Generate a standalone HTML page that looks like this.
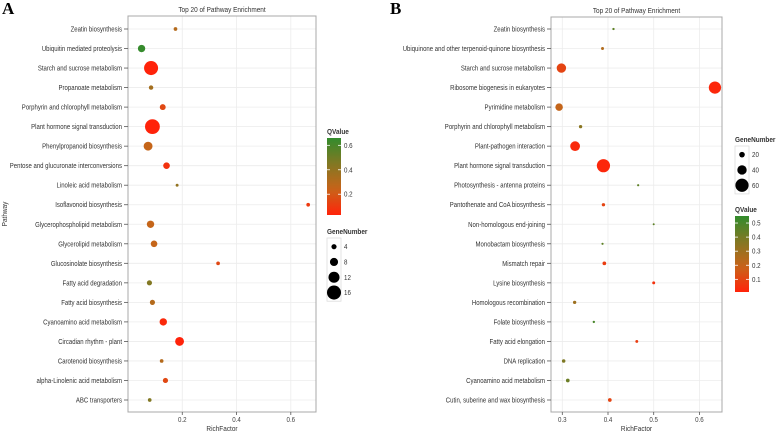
<!DOCTYPE html>
<html><head><meta charset="utf-8"><style>
body{margin:0;background:#fff;}
svg{display:block;font-family:"Liberation Sans",sans-serif;}
</style></head><body>
<svg id="chart" width="778" height="433" viewBox="0 0 778 433" xmlns="http://www.w3.org/2000/svg">
<text x="2" y="14" font-family="Liberation Serif" font-weight="bold" font-size="17">A</text>
<text x="390" y="14" font-family="Liberation Serif" font-weight="bold" font-size="17">B</text>
</svg>
<script>
const aPathways=["Zeatin biosynthesis","Ubiquitin mediated proteolysis","Starch and sucrose metabolism","Propanoate metabolism","Porphyrin and chlorophyll metabolism","Plant hormone signal transduction","Phenylpropanoid biosynthesis","Pentose and glucuronate interconversions","Linoleic acid metabolism","Isoflavonoid biosynthesis","Glycerophospholipid metabolism","Glycerolipid metabolism","Glucosinolate biosynthesis","Fatty acid degradation","Fatty acid biosynthesis","Cyanoamino acid metabolism","Circadian rhythm - plant","Carotenoid biosynthesis","alpha-Linolenic acid metabolism","ABC transporters"];
const aRich=[0.175,0.05,0.085,0.085,0.128,0.09,0.074,0.142,0.181,0.664,0.083,0.096,0.332,0.079,0.09,0.13,0.19,0.124,0.138,0.08];
const aQ=[0.3,0.65,0.02,0.35,0.15,0.02,0.25,0.08,0.4,0.1,0.25,0.25,0.15,0.45,0.3,0.05,0.02,0.3,0.15,0.45];
const aGenes=[2,7,16,3,5,17,9,6,1,2,7,6,2,4,4,7,9,2,4,2];
const aXTicks=[0.2,0.4,0.6];
const aQTicks=[0.2,0.4,0.6];
const aSizeTicks=[4,8,12,16];

const bPathways=["Zeatin biosynthesis","Ubiquinone and other terpenoid-quinone biosynthesis","Starch and sucrose metabolism","Ribosome biogenesis in eukaryotes","Pyrimidine metabolism","Porphyrin and chlorophyll metabolism","Plant-pathogen interaction","Plant hormone signal transduction","Photosynthesis - antenna proteins","Pantothenate and CoA biosynthesis","Non-homologous end-joining","Monobactam biosynthesis","Mismatch repair","Lysine biosynthesis","Homologous recombination","Folate biosynthesis","Fatty acid elongation","DNA replication","Cyanoamino acid metabolism","Cutin, suberine and wax biosynthesis"];
const bRich=[0.412,0.388,0.298,0.634,0.293,0.34,0.328,0.39,0.466,0.39,0.5,0.388,0.392,0.5,0.327,0.369,0.463,0.303,0.312,0.404];
const bQ=[0.45,0.25,0.1,0.02,0.2,0.35,0.03,0.02,0.45,0.1,0.45,0.45,0.08,0.05,0.3,0.5,0.08,0.38,0.42,0.1];
const bGenes=[3,6,40,55,30,8,42,60,2,8,1,2,10,6,8,3,6,9,10,10];
const bXTicks=[0.3,0.4,0.5,0.6];
const bQTicks=[0.1,0.2,0.3,0.4,0.5];
const bSizeTicks=[20,40,60];

const svg=document.getElementById('chart');
const NS="http://www.w3.org/2000/svg";
const SX=0.86;
function mk(tag,attrs,parent){const e=document.createElementNS(NS,tag);for(const k in attrs)e.setAttribute(k,attrs[k]);(parent||svg).appendChild(e);return e;}
function txt(x,y,s,attrs,parent){
  const a=Object.assign({x:0,y:0,transform:`translate(${x},${y}) scale(${SX},1)`},attrs);
  const t=mk('text',a,parent);t.textContent=s;return t;}
function colorFor(t){
  const stops=[[255,35,10],[200,100,25],[130,120,35],[50,140,45]];
  t=Math.max(0,Math.min(1,t));const s=t*(stops.length-1);const i=Math.min(Math.floor(s),stops.length-2);const f=s-i;
  const c=stops[i].map((v,j)=>Math.round(v+(stops[i+1][j]-v)*f));return `rgb(${c[0]},${c[1]},${c[2]})`;}

function panel(cfg){
  const g=mk('g',{});
  
  
  const {L,R,T,B,x0,x1,rowTop,rowBot}=cfg;
  const xs=v=>L+(v-x0)/(x1-x0)*(R-L);
  const n=cfg.paths.length;
  const ys=i=>rowTop+i*(rowBot-rowTop)/(n-1);
  const qs=q=>(q-cfg.qMin)/(cfg.qMax-cfg.qMin);
  const rs=gn=>cfg.rA+cfg.rB*gn;
  for(let i=0;i<n;i++){mk('line',{x1:L,x2:R,y1:ys(i),y2:ys(i),stroke:'#ececec','stroke-width':0.8},g);}
  cfg.xt.forEach(v=>{mk('line',{x1:xs(v),x2:xs(v),y1:T,y2:B,stroke:'#ececec','stroke-width':0.8},g);});
  const fr=mk('rect',{x:L,y:T,width:R-L,height:B-T,fill:'none',stroke:'#a8a8a8','stroke-width':1},g);
  
  
  cfg.paths.forEach((p,i)=>{
    mk('line',{x1:L-4,x2:L,y1:ys(i),y2:ys(i),stroke:'#555','stroke-width':0.8},g);
    const t=txt(L-6,ys(i)+2.5,p,{'text-anchor':'end','font-size':7,fill:'#333'},g);
    
    
  });
  cfg.xt.forEach(v=>{
    mk('line',{x1:xs(v),x2:xs(v),y1:B,y2:B+3,stroke:'#555','stroke-width':0.8},g);
    const t=txt(xs(v),B+10,v.toFixed(1),{'text-anchor':'middle','font-size':7.2,fill:'#444'},g);
    
    
  });
  cfg.paths.forEach((p,i)=>{
    const c=mk('circle',{cx:xs(cfg.rich[i]),cy:ys(i),r:rs(cfg.genes[i]),fill:colorFor(qs(cfg.q[i]))},g);
    
    
  });
  const tt=txt((L+R)/2,T-4,'Top 20 of Pathway Enrichment',{'text-anchor':'middle','font-size':7.5,fill:'#333'},g);
  
  
  const xl=txt((L+R)/2,B+19,'RichFactor',{'text-anchor':'middle','font-size':7.5,fill:'#333'},g);
  
  
  if(cfg.showY){
    const yl=mk('text',{x:0,y:0,'text-anchor':'middle','font-size':7.5,fill:'#333',transform:`translate(7,${(T+B)/2}) rotate(-90) scale(${SX},1)`},g);
    yl.textContent='Pathway';
    
    
  }
  const cl=cfg.cLeg;
  const qt=txt(cl.x,cl.y-4,'QValue',{'font-size':7.5,'font-weight':'bold',fill:'#333'},g);
  
  
  const gid='grad'+cfg.name;
  const defs=mk('defs',{},g);const lg=mk('linearGradient',{id:gid,x1:0,y1:1,x2:0,y2:0},defs);
  for(let k=0;k<=10;k++){mk('stop',{offset:k/10,'stop-color':colorFor(k/10)},lg);}
  const cb=mk('rect',{x:cl.x,y:cl.y,width:14,height:cl.h,fill:`url(#${gid})`},g);
  
  
  cfg.qt.forEach(v=>{
    const y=cl.y+cl.h-(v-cfg.qMin)/(cfg.qMax-cfg.qMin)*cl.h;
    mk('line',{x1:cl.x,x2:cl.x+3,y1:y,y2:y,stroke:'#fff','stroke-width':0.8},g);
    mk('line',{x1:cl.x+11,x2:cl.x+14,y1:y,y2:y,stroke:'#fff','stroke-width':0.8},g);
    const t=txt(cl.x+17,y+2.5,v.toFixed(1),{'font-size':7.2,fill:'#333'},g);
    
    
  });
  const sl=cfg.sLeg;
  const st=txt(sl.x,sl.y-4,'GeneNumber',{'font-size':7.5,'font-weight':'bold',fill:'#333'},g);
  
  
  mk('rect',{x:sl.x,y:sl.y,width:14,height:sl.step*cfg.st.length+2,fill:'#fff',stroke:'#ddd','stroke-width':0.8},g);
  cfg.st.forEach((v,k)=>{
    const y=sl.y+sl.step*(k+0.5)+1;
    const c=mk('circle',{cx:sl.x+7,cy:y,r:rs(v),fill:'#000'},g);
    
    
    const t=txt(sl.x+17,y+2.5,String(v),{'font-size':7.2,fill:'#333'},g);
    
    
  });
}
panel({name:'panel-a',paths:aPathways,rich:aRich,q:aQ,genes:aGenes,xt:aXTicks,qt:aQTicks,st:aSizeTicks,
  L:128,R:316,T:16,B:412,x0:0,x1:(316-122)/280,rowTop:29,rowBot:400,
  qMin:0.03,qMax:0.66,rA:1.1,rB:0.37,showY:true,
  cLeg:{x:327,y:138,h:77},sLeg:{x:327,y:238,step:15.3}});
panel({name:'panel-b',paths:bPathways,rich:bRich,q:bQ,genes:bGenes,xt:bXTicks,qt:bQTicks,st:bSizeTicks,
  L:551,R:722,T:17,B:412,x0:0.3-(562.3-551)/457,x1:0.3+(722-562.3)/457,rowTop:29,rowBot:400,
  qMin:0.01,qMax:0.55,rA:0.9,rB:0.095,showY:false,
  cLeg:{x:735,y:216,h:76},sLeg:{x:735,y:146,step:15.3}});
</script>
</body></html>
